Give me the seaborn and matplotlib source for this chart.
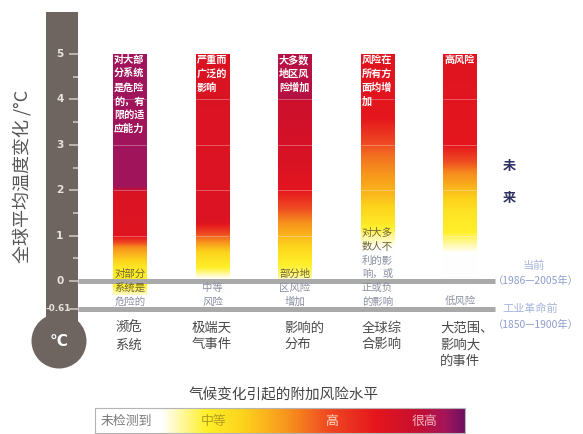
import numpy as np
import pandas as pd
import matplotlib
matplotlib.use("Agg")
import matplotlib.pyplot as plt
from matplotlib.colors import LinearSegmentedColormap
from matplotlib.patches import Rectangle, Ellipse
import seaborn as sns

# ---------------- data ----------------
categories = ["濒危\n系统", "极端天\n气事件", "影响的\n分布", "全球综\n合影响", "大范围、\n影响大\n的事件"]
bar_top = [5.0, 5.0, 5.0, 5.0, 5.0]
bar_bottom = [-0.3, -0.3, -0.3, -0.3, -0.3]

top_texts = ["对大部\n分系统\n是危险\n的，有\n限的适\n应能力",
             "严重而\n广泛的\n影响",
             "大多数\n地区风\n险增加",
             "风险在\n所有方\n面均增\n加",
             "高风险"]
bottom_texts = ["对部分\n系统是\n危险的",
                "中等\n风险",
                "部分地\n区风险\n增加",
                "对大多\n数人不\n利的影\n响，或\n正或负\n的影响",
                "低风险"]

# risk level along each bar (0 = not detected ... 1 = very high), read at temperature knots
risk_temps = [
    [-0.30, -0.10, 0.30, 0.75, 1.00, 1.95, 2.08, 5.00],
    [0.05, 0.30, 0.65, 1.00, 1.30, 5.00],
    [0.00, 0.12, 0.50, 1.30, 2.05, 3.00, 3.95, 4.05, 5.00],
    [0.75, 1.05, 1.25, 1.90, 2.80, 3.60, 5.00],
    [0.62, 1.08, 1.50, 1.90, 2.40, 3.00, 5.00],
]
risk_levels = [
    [0.21, 0.30, 0.33, 0.53, 0.78, 0.80, 0.95, 0.95],
    [0.18, 0.30, 0.40, 0.60, 0.79, 0.80],
    [0.18, 0.25, 0.33, 0.53, 0.77, 0.82, 0.85, 0.91, 0.91],
    [0.18, 0.26, 0.32, 0.45, 0.58, 0.76, 0.78],
    [0.18, 0.30, 0.34, 0.42, 0.54, 0.76, 0.78],
]

tick_values = [5, 4, 3, 2, 1, 0, -0.61]
tick_labels = ["5", "4", "3", "2", "1", "0", "-0.61"]
minor_tick_values = [4.5, 3.5, 2.5, 1.5, 0.5]
reference_levels = [0.0, -0.61]
reference_names = ["当前", "工业革命前"]
reference_periods = ["（1986—2005年）", "（1850—1900年）"]
future_label = ["未", "来"]
ylabel = "全球平均温度变化 /°C"
legend_title = "气候变化引起的附加风险水平"
legend_labels = ["未检测到", "中等", "高", "很高"]
legend_label_levels = [0.015, 0.32, 0.64, 0.89]

risk_colors = [(0.00, "#ffffff"), (0.18, "#ffffff"), (0.30, "#fff02a"), (0.40, "#fdd31c"),
               (0.52, "#f7941d"), (0.63, "#ef4a22"), (0.76, "#e5161d"), (0.87, "#c80f30"),
               (0.95, "#a3155a"), (1.00, "#6d115f")]
risk_cmap = LinearSegmentedColormap.from_list("risk", risk_colors)

# ---------------- layout ----------------
W, H = 583, 434
X0PX, XSTEP = 130.0, 82.5
Y0PX, YSTEP = 281.0, 45.4


def px2x(px):
    return (px - X0PX) / XSTEP


def py2y(py):
    return (Y0PX - py) / YSTEP


sns.set_theme(style="ticks")
plt.rcParams["font.family"] = ["Noto Sans CJK SC", "DejaVu Sans"]
plt.rcParams["axes.unicode_minus"] = False
CJK = ["Noto Sans CJK SC", "DejaVu Sans"]

fig = plt.figure(figsize=(W / 100, H / 100), dpi=100)
ax = fig.add_axes([0, 0, 1, 1])
ax.set_facecolor("white")

df = pd.DataFrame({"category": categories,
                   "height": np.array(bar_top) - np.array(bar_bottom)})
sns.barplot(data=df, x="category", y="height", ax=ax, width=0.41,
            color="white", errorbar=None, bottom=np.array(bar_bottom))

for i, patch in enumerate(ax.patches):
    bb = patch.get_bbox()
    x0, x1, y0, y1 = bb.x0, bb.x1, bb.y0, bb.y1
    patch.set_facecolor("none")
    patch.set_edgecolor("none")
    grid = np.linspace(y0, y1, 800)
    vals = np.interp(grid, risk_temps[i], risk_levels[i])
    im = ax.imshow(vals[:, None], extent=[x0, x1, y0, y1], origin="lower",
                   aspect="auto", cmap=risk_cmap, vmin=0, vmax=1,
                   interpolation="bilinear", zorder=1)
    im.set_clip_path(patch)
    # faint tile seams at whole degrees
    for t in tick_values[1:5]:
        ax.plot([x0, x1], [t, t], color="white", alpha=0.35, lw=0.6, zorder=1.5)

    # top text (white)
    for j, line in enumerate(top_texts[i].split("\n")):
        ax.text(x0 + 1.0 / XSTEP, py2y(60 + 13.8 * j), line, ha="left", va="center",
                fontsize=7.3, color="white", fontweight="bold", family=CJK, zorder=4)

# bottom texts
bottom_start_py = [274, 288, 274, 233, 301]
dark_lines = [2, 0, 1, 2, 0]
for i, txt in enumerate(bottom_texts):
    xc = i
    for j, line in enumerate(txt.split("\n")):
        col = "#6f6530" if j < dark_lines[i] else "#8b90a2"
        ax.text(xc, py2y(bottom_start_py[i] + 13.8 * j), line, ha="center", va="center",
                fontsize=7.5, color=col, family=CJK, zorder=4)

# category labels
label_dx = [2, -4, 6, 1, -3]
for i, lab in enumerate(categories):
    x0 = ax.patches[i].get_bbox().x0
    for j, line in enumerate(lab.split("\n")):
        ax.text(x0 + label_dx[i] / XSTEP, py2y(328 + 16.3 * j), line, ha="left", va="center",
                fontsize=9.6, color="#4a4a4a", family=CJK, zorder=4)

# reference lines
ax.hlines(reference_levels, px2x(78), px2x(495), colors="#a9a9a9", lw=3.6, zorder=3)

# thermometer
ax.add_patch(Rectangle((px2x(46.5), py2y(325)), (78 - 46.5) / XSTEP, (325 - 12) / YSTEP,
                       facecolor="#6e6460", edgecolor="none", zorder=0.5))
ax.add_patch(Ellipse((px2x(59), py2y(341)), 2 * 27.5 / XSTEP, 2 * 27.5 / YSTEP,
                     facecolor="#6e6460", edgecolor="none", zorder=0.5))
ax.text(px2x(59), py2y(341), "°C", ha="center", va="center", fontsize=11,
        fontweight="bold", color="white", family=["DejaVu Sans"], zorder=4)

ax.set_yticks(tick_values)
ax.set_yticks(minor_tick_values, minor=True)
ax.spines["left"].set_position(("data", px2x(78)))
for s in ax.spines.values():
    s.set_visible(False)
ax.tick_params(axis="y", which="both", left=True, right=False, direction="out",
               color="#d2cbc7", width=1.1, labelleft=False)
ax.tick_params(axis="y", which="major", length=6.5)
ax.tick_params(axis="y", which="minor", length=3.6)
ax.tick_params(axis="x", which="both", bottom=False, labelbottom=False)
ax.set_xlabel("")
ax.set_ylabel("")
for v, lab in zip(tick_values, tick_labels):
    small = lab.startswith("-")
    ax.text(px2x(70.5 if small else 63.5), v, lab, ha="right", va="center",
            fontsize=6.4 if small else 7.6, fontweight="bold", color="#e8e2de",
            family=["DejaVu Sans"], zorder=4)

# y label
ax.text(px2x(22), py2y(176), ylabel, rotation=90, ha="center", va="center",
        fontsize=13, color="#555555", family=CJK)

# future label
for j, ch in enumerate(future_label):
    ax.text(px2x(509), py2y(166 + 32 * j), ch, ha="center", va="center", fontsize=9.5,
            fontweight="bold", color="#2d3163", family=CJK)

# reference annotations
ax.text(px2x(534), py2y(266), reference_names[0], ha="center", va="center",
        fontsize=8, color="#a6b4dc", family=CJK)
ax.text(px2x(493), reference_levels[0], reference_periods[0], ha="left", va="center",
        fontsize=7.4, color="#8e9ccc", family=CJK)
ax.text(px2x(530), reference_levels[1] - 0.01, reference_names[1], ha="center", va="center",
        fontsize=8, color="#a6b4dc", family=CJK)
ax.text(px2x(493), py2y(325), reference_periods[1], ha="left", va="center",
        fontsize=7.4, color="#8e9ccc", family=CJK)

ax.set_xlim(px2x(0), px2x(W))
ax.set_ylim(py2y(H), py2y(0))

# legend
lax = fig.add_axes([95 / W, (H - 433) / H, 370 / W, 25 / H])
lax.imshow(np.linspace(0, 1, 512)[None, :], cmap=risk_cmap, aspect="auto",
           extent=[0, 1, 0, 1], interpolation="bilinear")
lax.set_xlim(0, 1)
lax.set_ylim(0, 1)
lax.set_xticks([])
lax.set_yticks([])
for s in lax.spines.values():
    s.set_visible(True)
    s.set_color("#b5b5b5")
    s.set_linewidth(0.8)
legend_colors = ["#7a7a7a", "#b39b22", "#fde0c8", "#f3b8c4"]
for k, (lab, lv) in enumerate(zip(legend_labels, legend_label_levels)):
    lax.text(lv, 0.45, lab, ha="left" if k == 0 else "center", va="center",
             fontsize=9.3, color=legend_colors[k], family=CJK)
fig.text(284 / W, 1 - 395 / H, legend_title, ha="center", va="center",
         fontsize=10.5, color="#444444", family=CJK)

fig.savefig("out.png", dpi=100)
